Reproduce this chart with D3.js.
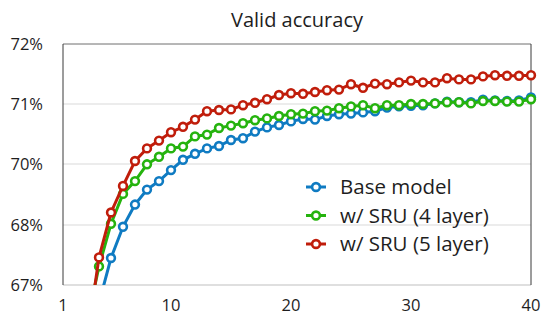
<!DOCTYPE html>
<html>
<head>
<meta charset="utf-8">
<script src="https://cdn.jsdelivr.net/npm/d3@7"></script>
<style>
  body { margin: 0; background: #fff; }
  text { font-family: "Open Sans", "Noto Sans", sans-serif; fill: #1e1e1e; }
</style>
</head>
<body>
<script>
// epochs shown on the x axis
var epochs = d3.range(3, 41)

// valid accuracy (%) per epoch
var baseModel = [66.1, 66.7, 67.45, 67.97, 68.67, 69.16, 69.44, 69.8, 70.07, 70.17, 70.26, 70.3, 70.4,
  70.43, 70.54, 70.61, 70.65, 70.71, 70.75, 70.74, 70.8, 70.83, 70.84, 70.86, 70.88, 70.94,
  70.96, 70.97, 70.98, 71.01, 71.04, 71.03, 71.03, 71.07, 71.06, 71.05, 71.06, 71.11]
var sru4 = [66.38, 67.31, 68.04, 69.02, 69.44, 69.99, 70.12, 70.26, 70.29, 70.46, 70.49, 70.6, 70.64,
  70.68, 70.73, 70.76, 70.8, 70.83, 70.84, 70.88, 70.89, 70.93, 70.96, 70.98, 70.93, 70.98,
  70.98, 71.0, 71.0, 71.01, 71.03, 71.03, 71.01, 71.05, 71.05, 71.04, 71.04, 71.08]
var sru5 = [66.08, 67.46, 68.41, 69.28, 70.05, 70.26, 70.39, 70.53, 70.62, 70.74, 70.88, 70.9, 70.91,
  70.98, 71.02, 71.08, 71.15, 71.18, 71.17, 71.2, 71.23, 71.24, 71.33, 71.27, 71.34, 71.33,
  71.36, 71.39, 71.36, 71.36, 71.43, 71.41, 71.41, 71.46, 71.48, 71.47, 71.47, 71.48]

var seriesNames = ["Base model", "w/ SRU (4 layer)", "w/ SRU (5 layer)"]
var seriesColors = ["#0f7bc2", "#25b30e", "#c01d0b"]

var yTicks = [67, 68, 70, 71, 72]
var xTicks = [1, 10, 20, 30, 40]

var width = 545
var height = 316
var margin = {top: 44, right: 14, bottom: 31, left: 63}

var svg = d3.select("body").append("svg")
  .attr("width", width)
  .attr("height", height)

var x = d3.scaleLinear().domain([1, 40]).range([margin.left, width - margin.right])
// the axis labels are evenly spaced, so the scale is piecewise
var y = d3.scaleLinear().domain(yTicks).range([285, 225, 164, 104, 44])

// title
svg.append("text").text("Valid accuracy")
  .attr("x", (x(1) + x(40)) / 2).attr("y", 27)
  .attr("text-anchor", "middle")
  .style("font-size", "20px")

// gridlines
svg.append("g").selectAll("line")
  .data(yTicks.slice(1, -1))
  .enter().append("line")
  .attr("x1", x(1)).attr("x2", x(40))
  .attr("y1", function(d) { return y(d) }).attr("y2", function(d) { return y(d) })
  .attr("stroke", "#d9d9d9").attr("stroke-width", 1)

// frame
svg.append("line").attr("x1", x(1)).attr("x2", x(40)).attr("y1", y(67)).attr("y2", y(67))
  .attr("stroke", "#bfbfbf")
svg.append("line").attr("x1", x(1)).attr("x2", x(40)).attr("y1", y(72)).attr("y2", y(72))
  .attr("stroke", "#6e6e6e")
svg.append("line").attr("x1", x(1)).attr("x2", x(1)).attr("y1", y(72)).attr("y2", y(67))
  .attr("stroke", "#3a3a3a")
svg.append("line").attr("x1", x(40)).attr("x2", x(40)).attr("y1", y(72)).attr("y2", y(67))
  .attr("stroke", "#3a3a3a")

// y labels
svg.append("g").selectAll("text")
  .data(yTicks)
  .enter().append("text")
  .text(function(d) { return d + "%" })
  .attr("x", 43).attr("y", function(d) { return y(d) })
  .attr("dy", "0.36em")
  .attr("text-anchor", "end")
  .style("font-size", "16.5px")

// x labels
svg.append("g").selectAll("text")
  .data(xTicks)
  .enter().append("text")
  .text(function(d) { return d })
  .attr("x", function(d) { return x(d) }).attr("y", 311)
  .attr("text-anchor", "middle")
  .style("font-size", "16.5px")

svg.append("clipPath").attr("id", "plot")
  .append("rect").attr("x", x(1)).attr("y", 30).attr("width", width).attr("height", y(67) - 30)

var allSeries = [baseModel, sru4, sru5]
var line = d3.line()
  .x(function(d) { return x(d[0]) })
  .y(function(d) { return y(d[1]) })

var plot = svg.append("g").attr("clip-path", "url(#plot)")
allSeries.forEach(function(vals, i) {
  var pts = epochs.map(function(e, j) { return [e, vals[j]] })
  var g = plot.append("g")
  g.append("path").datum(pts)
    .attr("d", line)
    .attr("fill", "none")
    .attr("stroke", seriesColors[i])
    .attr("stroke-width", 3)
  g.selectAll("circle")
    .data(pts.filter(function(p) { return p[1] >= 67 }))
    .enter().append("circle")
    .attr("cx", function(d) { return x(d[0]) })
    .attr("cy", function(d) { return y(d[1]) })
    .attr("r", 3.9)
    .attr("fill", "#fff")
    .attr("stroke", seriesColors[i])
    .attr("stroke-width", 2.6)
})

// legend
var legend = svg.append("g")
var rowsY = [187, 215.5, 244]
seriesNames.forEach(function(name, i) {
  var row = legend.append("g").attr("transform", "translate(0," + rowsY[i] + ")")
  row.append("line").attr("x1", 306).attr("x2", 326)
    .attr("stroke", seriesColors[i]).attr("stroke-width", 3)
  row.append("circle").attr("cx", 316).attr("r", 3.9)
    .attr("fill", "#fff").attr("stroke", seriesColors[i]).attr("stroke-width", 2.6)
  row.append("text").text(name)
    .attr("x", 340).attr("dy", "0.36em")
    .style("font-size", "20.5px")
})
</script>
</body>
</html>
